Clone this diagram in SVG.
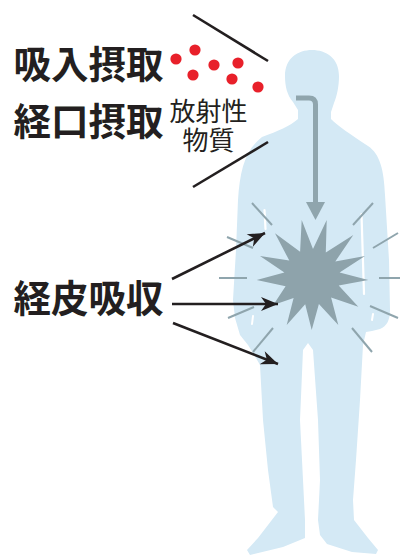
<svg xmlns="http://www.w3.org/2000/svg" width="400" height="556" viewBox="0 0 400 556">
  <style>
    .label { font-family: "Noto Sans CJK JP", "Noto Sans", sans-serif; font-weight: 700; font-size: 37.5px; fill: #231f20; }
    .sub { font-family: "Noto Sans CJK JP", "Noto Sans", sans-serif; font-weight: 400; font-size: 26px; fill: #231f20; text-anchor: middle; }
    .ray { stroke: #8fa5ad; stroke-width: 2; fill: none; }
    .slit { stroke: #ffffff; stroke-linecap: round; fill: none; }
    .pointer { stroke: #231f20; stroke-width: 2.6; fill: none; }
    .dot { fill: #e8202a; }
  </style>
  <defs>
    <marker id="head" markerUnits="userSpaceOnUse" markerWidth="20" markerHeight="16" viewBox="-18 -8 20 16" refX="0" refY="0" orient="auto">
      <path d="M0,0 L-17,-7 L-12,0 L-17,7 Z" fill="#231f20"/>
    </marker>
  </defs>

  <rect width="400" height="556" fill="#ffffff"/>

  <!-- human silhouette -->
  <g id="body">
    <path fill="#d4e9f5" d="M312,50 C326,50 339,58 339,76 C339,86 337,96 334,103 L331,112 L331,119 C338,126 350,134 368,146 C380,154 384,170 385,195 L389,260 L390,310 C390,320 387,326 380,329 L372,331 L366,332 L363,345 L360,400 L356,460 L353,500 L354,520 L368,538 L378,550 L376,554 L352,552 L327,544 L320,535 L318,520 L320,480 L318,420 L313,350 L308,343 L303,350 L300,420 L303,480 L305,520 L305,538 L283,547 L250,555 L247,550 L258,538 L278,512 L273,507 L268,470 L263,420 L260,365 L256,358 L248,345 L240,335 L235,318 L233,300 L236,250 L238,200 C240,170 245,150 262,137 C278,131 290,126 298,119 L298,110 L293,102 C287,95 285,86 285,76 C285,58 298,50 312,50 Z"/>
    <path class="slit" stroke-width="2.2" d="M264.5,210 L265.5,229"/>
    <path class="slit" stroke-width="2.2" d="M361.5,214 L364,294"/>
    <path class="slit" stroke-width="2" d="M253,316 L252,324"/>
    <path class="slit" stroke-width="2" d="M373,314 L372,320"/>
  </g>

  <!-- ingestion path down to the torso -->
  <g id="ingestion">
    <path d="M296,98 L309,98 Q315.5,98 315.5,104.5 L315.5,205" stroke="#8fa5ad" stroke-width="5" fill="none"/>
    <polygon points="306,202 325,202 315.5,220" fill="#8fa5ad"/>
  </g>

  <!-- exposure burst -->
  <g id="burst">
    <polygon fill="#8ea3ab" points="301.7,220 313,249 326.7,220 325.8,252.6 353.3,235 335.3,261.5 365,256 339.6,272.5 368.3,280 338.7,285.6 358.3,306.7 331.1,297.5 338.3,325 318.9,304.1 311.7,330 305.2,304.2 286.7,325 293.6,298.1 273.3,305 285.6,286.3 256.7,280 284.4,272.4 260,256 289.3,260.6 275,233.3 300.1,251.7"/>
    <line class="ray" x1="252" y1="203" x2="272" y2="225"/>
    <line class="ray" x1="227" y1="237" x2="253" y2="248"/>
    <line class="ray" x1="219" y1="278" x2="247" y2="278"/>
    <line class="ray" x1="228" y1="318" x2="254" y2="307"/>
    <line class="ray" x1="253" y1="352" x2="273" y2="328"/>
    <line class="ray" x1="373" y1="203" x2="353" y2="225"/>
    <line class="ray" x1="398" y1="233" x2="373" y2="248"/>
    <line class="ray" x1="400" y1="278" x2="379" y2="278"/>
    <line class="ray" x1="398" y1="318" x2="370" y2="306"/>
    <line class="ray" x1="372" y1="352" x2="352" y2="328"/>
  </g>

  <!-- airborne particles -->
  <g id="particles">
    <circle class="dot" cx="176" cy="59" r="5.6"/>
    <circle class="dot" cx="195" cy="50" r="5.6"/>
    <circle class="dot" cx="214" cy="65" r="5.6"/>
    <circle class="dot" cx="238" cy="63" r="5.6"/>
    <circle class="dot" cx="193" cy="75" r="5.6"/>
    <circle class="dot" cx="232" cy="79" r="5.6"/>
    <circle class="dot" cx="258" cy="87" r="5.6"/>
  </g>

  <!-- connectors -->
  <g id="connectors">
    <line class="pointer" x1="193" y1="15" x2="268" y2="61"/>
    <line class="pointer" x1="268" y1="142" x2="193" y2="187"/>
    <line class="pointer" x1="172" y1="279" x2="265" y2="233" marker-end="url(#head)"/>
    <line class="pointer" x1="172" y1="304" x2="278" y2="304" marker-end="url(#head)"/>
    <line class="pointer" x1="173" y1="323" x2="278" y2="364" marker-end="url(#head)"/>
  </g>

  <!-- labels -->
  <g id="label-inhalation">
    <text class="label" x="13.5" y="78">吸入摂取</text>
  </g>
  <g id="label-ingestion">
    <text class="label" x="13.5" y="134.5">経口摂取</text>
  </g>
  <g id="label-substance">
    <text class="sub" x="208.5" y="121">放射性</text>
    <text class="sub" x="208.5" y="150">物質</text>
  </g>
  <g id="label-skin">
    <text class="label" x="13.5" y="311.5">経皮吸収</text>
  </g>
</svg>
